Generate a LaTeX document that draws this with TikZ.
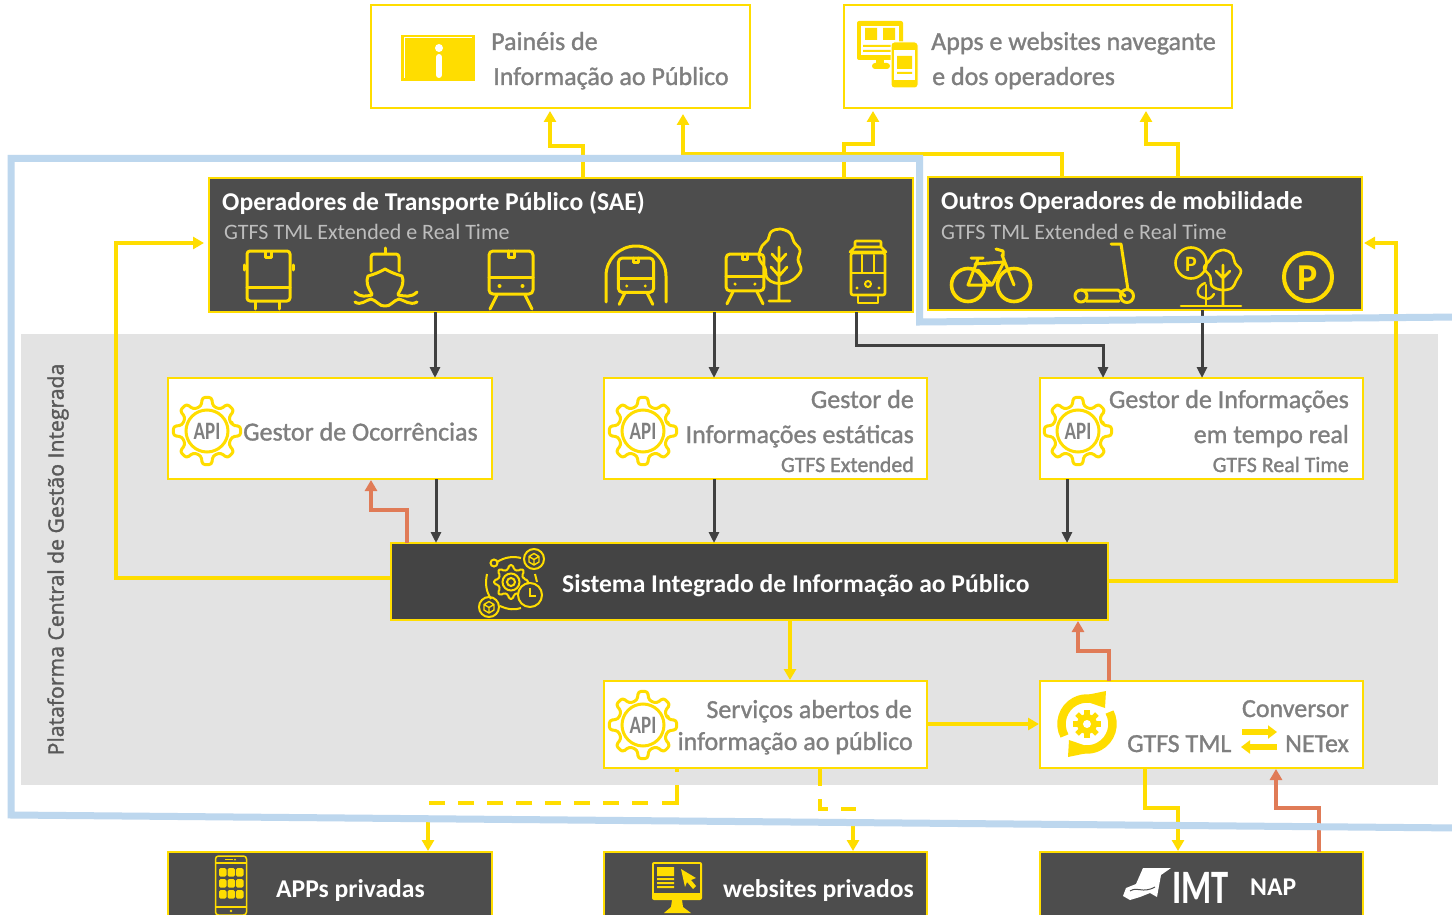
\documentclass[tikz,border=0pt]{standalone}
\usepackage{fontspec}
\usepackage{graphicx}
\setmainfont{Carlito}
\newfontfamily\platfont[FakeBold=1.6]{Open Sans}
\newfontfamily\semifont[FakeBold=1.2]{Carlito}
\usetikzlibrary{arrows.meta,calc}
\definecolor{ylw}{HTML}{FFDD00}
\definecolor{drk}{HTML}{4D4D4D}
\definecolor{sisd}{HTML}{444444}
\definecolor{grybg}{HTML}{E3E3E3}
\definecolor{gtxt}{HTML}{7F7F7F}
\definecolor{ltxt}{HTML}{BDBDBD}
\definecolor{org}{HTML}{E07B57}
\definecolor{blu}{HTML}{BDD7EE}
\definecolor{conn}{HTML}{404040}
\tikzset{
 whitebox/.style={draw=ylw,fill=white,line width=2pt,inner sep=0,outer sep=0},
 darkbox/.style={draw=ylw,fill=drk,line width=2.5pt,inner sep=0,outer sep=0},
 ylink/.style={draw=ylw,line width=3.4pt,-{Triangle[length=11pt,width=12pt]},shorten >=1pt},
 ydash/.style={draw=ylw,line width=4.6pt},
 olink/.style={draw=org,line width=3.4pt,-{Triangle[length=11pt,width=12pt]},shorten >=1pt},
 dlink/.style={draw=conn,line width=3pt,-{Triangle[length=11pt,width=10pt]}},
 ic/.style={draw=ylw,line width=3pt,line cap=round,line join=round},
 ttl/.style={inner sep=0,font=\fontsize{25.6}{26}\selectfont\bfseries,text=white},
 sub/.style={inner sep=0,font=\fontsize{22}{24}\selectfont,text=ltxt},
 gt/.style={inner sep=0,font=\semifont\fontsize{26}{27}\selectfont,text=gtxt},
 gs/.style={inner sep=0,font=\semifont\fontsize{21.9}{23}\selectfont,text=gtxt},
}
\newcommand{\gearshape}[4]{% outer, root, halfTip, halfRoot
 (0-#4:#2) \foreach \a in {0,45,...,315}{ -- (\a-#4:#2) -- (\a-#3:#1) -- (\a+#3:#1) -- (\a+#4:#2)} -- cycle}
\newcommand{\apigear}[3]{%
 \begin{scope}[shift={(#2,#3)}]
  \draw[ylw,line width=3pt,rounded corners=3pt,line join=round] \gearshape{34}{25.5}{8}{13};
  \draw[ylw,line width=3pt] (0,0) circle[radius=21];
  \node[inner sep=0,text=gtxt,font=\fontsize{25}{25}\selectfont\bfseries] (#1) at (0,0) {\scalebox{0.76}[1]{API}};
 \end{scope}}
\newcommand{\traingl}[3]{%
 \begin{scope}[shift={(#1,#2)},scale=#3]
  \draw[ic,rounded corners=4pt] (-22,0) rectangle (22,43);
  \draw[ic] (-22,26) -- (22,26);
  \draw[ic] (-3,0) -- (-3,6) -- (3,6) -- (3,0);
  \fill[ylw] (-11.5,35) circle[radius=2] (11.5,35) circle[radius=2];
  \draw[ic] (-14,44) -- (-21,58) (14,44) -- (21,58);
 \end{scope}}
\newcommand{\cube}[2]{%
 \begin{scope}[shift={(#1,#2)}]
  \draw[ylw,line width=2pt] (0,0) circle[radius=10];
  \draw[ylw,line width=1.4pt,line join=round] (0,-5.5) -- (5,-2.5) -- (5,3) -- (0,6) -- (-5,3) -- (-5,-2.5) -- cycle (-5,-2.5) -- (0,.5) -- (5,-2.5) (0,.5) -- (0,6);
 \end{scope}}
\begin{document}
\begin{tikzpicture}[x=1pt,y=-1pt]
\useasboundingbox (0,0) rectangle (1452,915);
\clip (0,0) rectangle (1452,915);
\fill[white] (0,0) rectangle (1452,915);
% grey platform
\node[fill=grybg,inner sep=0,outer sep=0,minimum width=1417pt,minimum height=451pt] (plat) at (729.5,559.5) {};
\node[rotate=90,inner sep=0,text=black!65,font=\platfont\fontsize{21.2}{21.2}\selectfont] (plattxt) at (58,559.5) {Plataforma Central de Gestão Integrada};
% boxes
\node[whitebox,minimum width=379pt,minimum height=103pt] (pan) at (560.5,56.5) {};
\node[whitebox,minimum width=388pt,minimum height=103pt] (app) at (1038,56.5) {};
\node[darkbox,minimum width=704pt,minimum height=134pt] (sae) at (561,245) {};
\node[darkbox,minimum width=434pt,minimum height=133pt] (out) at (1145,243.5) {};
\node[whitebox,minimum width=324pt,minimum height=101pt] (occ) at (330,428.5) {};
\node[whitebox,minimum width=323pt,minimum height=101pt] (inf) at (765.5,428.5) {};
\node[whitebox,minimum width=323pt,minimum height=101pt] (rt) at (1201.5,428.5) {};
\node[darkbox,fill=sisd,minimum width=717pt,minimum height=77pt] (sis) at (749.5,581.5) {};
\node[whitebox,minimum width=323pt,minimum height=87pt] (srv) at (765.5,724.5) {};
\node[whitebox,minimum width=323pt,minimum height=87pt] (cnv) at (1201.5,724.5) {};
\node[darkbox,minimum width=324pt,minimum height=73pt] (apr) at (330,888.5) {};
\node[darkbox,minimum width=323pt,minimum height=73pt] (web) at (765.5,888.5) {};
\node[darkbox,minimum width=323pt,minimum height=73pt] (nap) at (1201.5,888.5) {};
% connectors yellow
\draw[ylink,shorten >=3pt] (583,0 |- sae.north) -- (583,146) -- (550,146) -- (550,0 |- pan.south);
\draw[ylink,shorten >=6pt] (1062,0 |- out.north) -- (1062,154) -- (683,154) -- (683,0 |- pan.south);
\draw[ylink,shorten >=3pt] (844,0 |- sae.north) -- (844,144) -- (873,144) -- (873,0 |- app.south);
\draw[ylink,shorten >=3pt] (1178,0 |- out.north) -- (1178,144) -- (1146,144) -- (1146,0 |- app.south);
\draw[ylink,shorten >=5pt] (sis.west |- 0,578) -- (116,578) -- (116,243) -- (sae.west |- 0,243);
\draw[ylink,shorten >=2pt] (sis.east |- 0,581) -- (1396,581) -- (1396,243) -- (out.east |- 0,243);
\draw[ylink] (790,0 |- sis.south) -- (790,0 |- srv.north);
\draw[ylink,line width=4pt] (srv.east |- 0,724) -- (cnv.west |- 0,724);
\draw[ylink] (1145,0 |- cnv.south) -- (1145,808) -- (1178,808) -- (1178,0 |- nap.north);
% dashed
\coordinate (j1) at (428,822);
\coordinate (j2) at (853,822);
\draw[ydash,dash pattern=on 4pt off 13pt on 33pt off 14pt on 16pt off 13pt on 16pt off 13pt on 16pt off 13pt on 16pt off 13pt on 16pt off 13pt on 16pt off 13pt on 16pt off 13pt on 16pt off 13pt] (677,0 |- srv.south) -- (677,803) -- (429,803);
\draw[ydash,dash pattern=on 18pt off 13pt] (820,0 |- srv.south) -- (820,809) -- (856,809);
\draw[ylink] (j1) -- (428,0 |- apr.north);
\draw[ylink] (j2) -- (853,0 |- web.north);
% dark
\draw[dlink] (435,0 |- sae.south) -- (435,0 |- occ.north);
\draw[dlink] (714,0 |- sae.south) -- (714,0 |- inf.north);
\draw[dlink] (856,0 |- sae.south) -- (856,345) -- (1103,345) -- (1103,0 |- rt.north);
\draw[dlink] (1202,0 |- out.south) -- (1202,0 |- rt.north);
\draw[dlink] (436,0 |- occ.south) -- (436,0 |- sis.north);
\draw[dlink] (714,0 |- inf.south) -- (714,0 |- sis.north);
\draw[dlink] (1067,0 |- rt.south) -- (1067,0 |- sis.north);
% orange
\draw[olink] (407,0 |- sis.north) -- (407,510) -- (371,510) -- (371,0 |- occ.south);
\draw[olink] (1109,0 |- cnv.north) -- (1109,651) -- (1078,651) -- (1078,0 |- sis.south);
\draw[olink] (1319,0 |- nap.north) -- (1319,808) -- (1276,808) -- (1276,0 |- cnv.south);
% texts
\node[gt,anchor=base west] (t1) at (491,50) {Painéis de};
\node[gt,anchor=base west] (t2) at (493,85) {Informação ao Público};
\node[gt,anchor=base west] (t3) at (931,50) {Apps e websites navegante};
\node[gt,anchor=base west] (t4) at (932,85) {e dos operadores};
\node[ttl,anchor=base west] (t5) at (222,211) {Operadores de Transporte Público (SAE)};
\node[sub,anchor=base west] (t6) at (224,239) {GTFS TML Extended e Real Time};
\node[ttl,anchor=base west] (t7) at (941,210) {Outros Operadores de mobilidade};
\node[sub,anchor=base west] (t8) at (941,239) {GTFS TML Extended e Real Time};
\node[gt,anchor=base west] (t9) at (243,440.5) {Gestor de Ocorrências};
\node[gt,anchor=base east] (t10) at (914,408) {Gestor de};
\node[gt,anchor=base east] (t11) at (914,443) {Informações estáticas};
\node[gs,anchor=base east] (t12) at (914,472) {GTFS Extended};
\node[gt,anchor=base east] (t13) at (1349,408) {Gestor de Informações};
\node[gt,anchor=base east] (t14) at (1349,443) {em tempo real};
\node[gs,anchor=base east] (t15) at (1349,472) {GTFS Real Time};
\node[ttl,anchor=base west] (t16) at (562,592) {Sistema Integrado de Informação ao Público};
\node[gt,anchor=base east] (t17) at (912,718) {Serviços abertos de};
\node[gt,anchor=base east] (t18) at (913,750) {informação ao público};
\node[gt,anchor=base east] (t19) at (1349,717) {Conversor};
\node[gt,anchor=base west] (t20) at (1127,752) {GTFS TML};
\node[gt,anchor=base east] (t21) at (1349,752) {NETex};
\node[ttl,anchor=base west] (t22) at (276,897) {APPs privadas};
\node[ttl,anchor=base west] (t23) at (723,897) {websites privados};
\node[ttl,anchor=base west] (t24) at (1250,895) {NAP};
% API gears
\apigear{g1}{207}{431}
\apigear{g2}{643}{431}
\apigear{g3}{1078}{431}
\apigear{g4}{643}{725}
% info icon
\fill[ylw] (401,35) rectangle (475,81);
\draw[white,line width=1pt] (404,78) -- (404,38) -- (472,38);
\fill[white] (439,48) circle[radius=4];
\draw[white,line width=6pt,line cap=round] (439,57) -- (439,75);
% devices icon
\fill[ylw,rounded corners=2pt] (857,21) rectangle (903,60);
\fill[white] (861,26) rectangle (899,55);
\fill[ylw] (865,28) rectangle (877,40) (883,28) rectangle (895,40) (863,45) rectangle (897,47) (863,50) rectangle (897,52);
\fill[ylw,rounded corners=3pt] (872,63) rectangle (890,69);
\fill[ylw] (876,58) rectangle (884,64);
\filldraw[fill=ylw,rounded corners=3pt,draw=white,line width=1pt] (891,42) rectangle (918,88);
\fill[white] (894,50) rectangle (915,80);
\fill[ylw] (897,56) rectangle (912,69) (897,72) rectangle (912,74);
% bus
\draw[ic,rounded corners=3pt] (247,251) rectangle (290,301);
\draw[ic] (247,287) -- (290,287) (265,252) -- (265,257) -- (271,257) -- (271,252);
\draw[ic] (244,265) -- (244,270) (293,265) -- (293,270) (255,302) -- (255,309) (279,302) -- (279,309);
% ship
\draw[ic] (385,248) -- (385,253);
\draw[ic,rounded corners=3pt] (371,271) -- (371,254) -- (399,254) -- (399,271);
\draw[ic] (372,294) .. controls (367,286) and (366,281) .. (368,276) .. controls (375,274) and (380,272) .. (385,269) .. controls (390,272) and (395,274) .. (402,276) .. controls (404,281) and (403,286) .. (398,294);
\draw[ic] (355,292) .. controls (361,298) and (366,296) .. (372,295) (398,295) .. controls (405,296) and (411,298) .. (417,292);
\draw[ic] (355,302) .. controls (361,306) and (366,300) .. (371,299) .. controls (376,300) and (380,307) .. (385,306) .. controls (390,307) and (394,300) .. (399,299) .. controls (404,300) and (410,306) .. (417,302);
% trains
\traingl{511}{251}{1}
\draw[ic] (606,302) -- (606,276) arc[start angle=180,end angle=360,radius=30] -- (666,302);
\traingl{636}{258}{.8}
\traingl{745}{254}{.86}
% tree
\draw[ic,line width=2.8pt] plot[smooth cycle,tension=.6] coordinates {(780,229) (790,233) (794,242) (800,250) (798,260) (801,270) (794,279) (785,283) (775,283) (767,278) (765,268) (759,258) (762,246) (768,240) (771,232)};
\draw[ic,line width=2.8pt] (779,247) -- (779,300) (769,301) -- (790,301) (779,262) -- (772,254) (779,262) -- (786,254) (779,276) -- (771,267) (779,276) -- (787,267);
% tram
\draw[ic,line width=2.6pt,rounded corners=1pt] (855,241) rectangle (881,247);
\draw[ic,line width=2.6pt] (855,247) -- (850,252) -- (886,252) -- (881,247);
\draw[ic,line width=2.6pt,rounded corners=2pt] (851,253) rectangle (885,295);
\draw[ic,line width=2pt] (851,273) -- (885,273) (862,255) -- (862,273) (874,255) -- (874,273);
\draw[ic,line width=2pt] (868,284) circle[radius=3];
\fill[ylw] (857,288) circle[radius=1.6] (879,288) circle[radius=1.6];
\draw[ic,line width=2.6pt] (858,296) -- (858,303) -- (878,303) -- (878,296);
% bike
\draw[ic,line width=3.6pt] (968,285) circle[radius=16.5] (1014,285) circle[radius=16.5];
\draw[ic] (978,259) -- (968,285) -- (992,285) -- (1004,262) -- (975,264) (978,270) -- (992,285) (1002,255) -- (1014,285);
\draw[ic] (971,258) -- (983,258) (996,249) -- (1003,251) -- (1003,256);
% scooter
\draw[ic] (1111,244) -- (1121,244) -- (1128,290);
\draw[ic] (1081,290) -- (1118,290) -- (1125,296) (1086,301) -- (1119,301);
\draw[ic] (1081,296) circle[radius=6] (1127,296) circle[radius=6.5];
% parking trees
\draw[ic,line width=2.6pt] (1191,263) circle[radius=15.5];
\node[inner sep=0,text=ylw,font=\fontsize{22}{22}\selectfont\bfseries] (pk1) at (1191,264) {P};
\draw[ic,line width=2.6pt] plot[smooth cycle,tension=.6] coordinates {(1224,250) (1232,254) (1235,263) (1241,271) (1236,281) (1232,288) (1222,290) (1212,286) (1210,276) (1204,268) (1210,260) (1215,253)};
\draw[ic,line width=2.6pt] (1223,265) -- (1223,305) (1223,278) -- (1216,271) (1223,278) -- (1230,271);
\draw[ic,line width=2.4pt] (1205,283) .. controls (1197,286) and (1194,296) .. (1204,298) .. controls (1208,300) and (1212,298) .. (1214,294);
\draw[ic,line width=2.6pt] (1206,285) -- (1206,305) (1181,306) -- (1241,306);
% P icon
\draw[ic,line width=4pt] (1308,277) circle[radius=24];
\node[inner sep=0,text=ylw,font=\fontsize{38}{38}\selectfont\bfseries] (pk2) at (1308,278) {P};
% system icon
\begin{scope}[shift={(511,582)}]
 \draw[ylw,line width=2pt,rounded corners=1.5pt,line join=round] \gearshape{17}{13}{7}{12};
 \draw[ylw,line width=2pt] (0,0) circle[radius=8.5] (0,0) circle[radius=4];
 \draw[ylw,line width=2pt] (-14,-20) .. controls (-6,-25) and (2,-26) .. (10,-24);
 \draw[ylw,line width=2pt] (-24,-8) .. controls (-26,2) and (-25,9) .. (-20,17);
 \draw[ylw,line width=2pt] (-11,24) .. controls (-2,28) and (4,28) .. (10,26);
 \draw[ylw,line width=2pt] (24,-8) -- (26,0);
\end{scope}
\filldraw[draw=ylw,fill=sisd,line width=2pt] (494,563) circle[radius=3.5];
\filldraw[draw=ylw,fill=sisd,line width=2pt] (530,595) circle[radius=12];
\draw[ylw,line width=2pt] (530,588) -- (530,596) -- (536,596);
\cube{534}{559}
\cube{489}{607}
% converter icon
\begin{scope}[shift={(1087,724)}]
 \draw[ylw,line width=8.5pt] (152:25.5) arc[start angle=152,end angle=276,radius=25.5];
 \fill[ylw] (19,-33) -- (18,-16) -- (2,-21.5) -- (2,-29.5) -- cycle;
 \draw[ylw,line width=8.5pt] (-28:25.5) arc[start angle=-28,end angle=96,radius=25.5];
 \fill[ylw] (-19,33) -- (-18,16) -- (-2,21.5) -- (-2,29.5) -- cycle;
 \fill[ylw] (0,0) circle[radius=10];
 \foreach \a in {0,45,...,315}{\fill[ylw,rotate=\a] (-2.6,-14) rectangle (2.6,-8);}
 \fill[white] (0,0) circle[radius=4];
\end{scope}
% swap arrows
\draw[ylw,line width=5.5pt,-{Triangle[length=9pt,width=13pt]}] (1242,732) -- (1277,732);
\draw[ylw,line width=5.5pt,-{Triangle[length=9pt,width=13pt]}] (1277,747) -- (1241,747);
% phone
\draw[ylw,line width=1.5pt,rounded corners=3pt] (215.5,856) rectangle (246.5,915);
\draw[ylw,line width=1.2pt] (215.5,863) -- (246.5,863) (215.5,907) -- (246.5,907) (225,859.5) -- (233,859.5);
\fill[ylw] (235,859.5) circle[radius=1] (231,911) circle[radius=1.3];
\foreach \i in {0,1,2}{\foreach \j in {0,1,2}{\fill[ylw,rounded corners=1.5pt] (219+\i*8.5,868+\j*11) rectangle +(7.5,8.5);}}
% web monitor
\fill[ylw,rounded corners=2pt] (652,862) rectangle (702,900);
\fill[drk] (654,864) rectangle (700,893);
\fill[ylw] (657,867) rectangle (674,876) (657,878) rectangle (674,880) (657,882) rectangle (674,884) (657,886) rectangle (674,888);
\fill[ylw] (681,869) -- (696,878) -- (691,880) -- (696,886) -- (693,889) -- (687,882) -- (685,887) -- cycle;
\fill[ylw] (672,900) -- (682,900) -- (683,907) -- (691,913) -- (664,913) -- (671,907) -- cycle;
% IMT logo
\fill[white] (1143,868) -- (1171,868) -- (1161,875) -- (1157,897) -- (1150,893) -- (1140,897) -- (1130,900) -- (1123,896) -- (1126,888) -- (1136,884) -- cycle;
\draw[drk,line width=1pt] (1130,891) .. controls (1138,886) and (1142,894) .. (1155,887);
\node[inner sep=0,text=white,anchor=base west,font=\fontsize{48}{48}\selectfont\bfseries] (imt) at (1172,903) {\scalebox{.72}[1]{IMT}};
% blue frame
\draw[blu,line width=7pt,line join=miter] (1460,828) -- (11,815) -- (11,158.5) -- (919.5,158.5) -- (919.5,322) -- (1460,317);
\end{tikzpicture}
\end{document}
